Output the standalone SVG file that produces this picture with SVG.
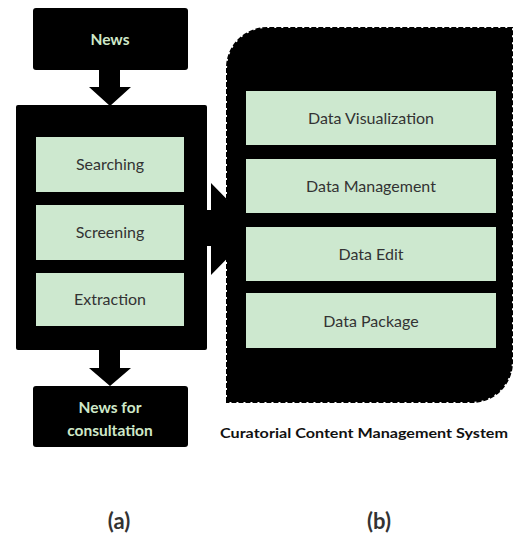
<svg xmlns="http://www.w3.org/2000/svg" width="514" height="536" viewBox="0 0 514 536">
<style>
.blk{fill:#000}
.grn{fill:#cde8cf}
.lbl{font-family:Lato,"Open Sans","Liberation Sans",sans-serif;font-size:16px;fill:#333;text-anchor:middle}
.hd{font-family:Lato,"Open Sans","Liberation Sans",sans-serif;font-size:15.5px;font-weight:bold;fill:#cfe8c8;text-anchor:middle}
.cap{font-family:Lato,"Liberation Sans",sans-serif;font-size:13.5px;font-weight:bold;fill:#111}
.sub{font-family:Lato,"Open Sans","Liberation Sans",sans-serif;font-size:22px;font-weight:bold;fill:#333;text-anchor:middle}
</style>
<rect width="514" height="536" fill="#fff"/>
<g id="connectors">
<polygon class="blk" points="99,68 120,68 120,87 131,87 110,106 89,87 99,87"/>
<polygon class="blk" points="99,348 120,348 120,368 131,368 110,386 89,368 99,368"/>
<polygon class="blk" points="205,210 211,210 211,183 256,229 211,275 211,246 205,246"/>
</g>
<g id="news">
<rect class="blk" x="33" y="8" width="155" height="62" rx="3"/>
<text class="hd" x="110" y="45">News</text>
</g>
<g id="process">
<rect class="blk" x="16" y="105" width="191" height="245" rx="2"/>
<g id="searching">
<rect class="grn" x="36" y="137" width="148" height="55"/>
<text class="lbl" x="110" y="170">Searching</text>
</g>
<g id="screening">
<rect class="grn" x="36" y="205" width="148" height="55"/>
<text class="lbl" x="110" y="238">Screening</text>
</g>
<g id="extraction">
<rect class="grn" x="36" y="273" width="148" height="53"/>
<text class="lbl" x="110" y="305">Extraction</text>
</g>
</g>
<g id="news-consultation">
<rect class="blk" x="33" y="386" width="155" height="61" rx="3"/>
<text class="hd" x="110" y="413">News for</text>
<text class="hd" x="110" y="436">consultation</text>
</g>
<g id="ccms">
<path d="M227,402 L227,68 A40,40 0 0 1 267,28 L512,28 L512,362 A40,40 0 0 1 472,402 Z" fill="#000" stroke="#000" stroke-width="2" stroke-dasharray="5 2"/>
<g id="data-visualization">
<rect class="grn" x="246" y="91" width="250" height="54"/>
<text class="lbl" x="371" y="124">Data Visualization</text>
</g>
<g id="data-management">
<rect class="grn" x="246" y="159" width="250" height="54"/>
<text class="lbl" x="371" y="192">Data Management</text>
</g>
<g id="data-edit">
<rect class="grn" x="246" y="227" width="250" height="54"/>
<text class="lbl" x="371" y="260">Data Edit</text>
</g>
<g id="data-package">
<rect class="grn" x="246" y="293" width="250" height="55"/>
<text class="lbl" x="371" y="327">Data Package</text>
</g>
<text class="cap" x="220" y="438" textLength="288" lengthAdjust="spacingAndGlyphs">Curatorial Content Management System</text>
</g>
<text class="sub" x="119" y="529">(a)</text>
<text class="sub" x="379" y="529">(b)</text>
</svg>
